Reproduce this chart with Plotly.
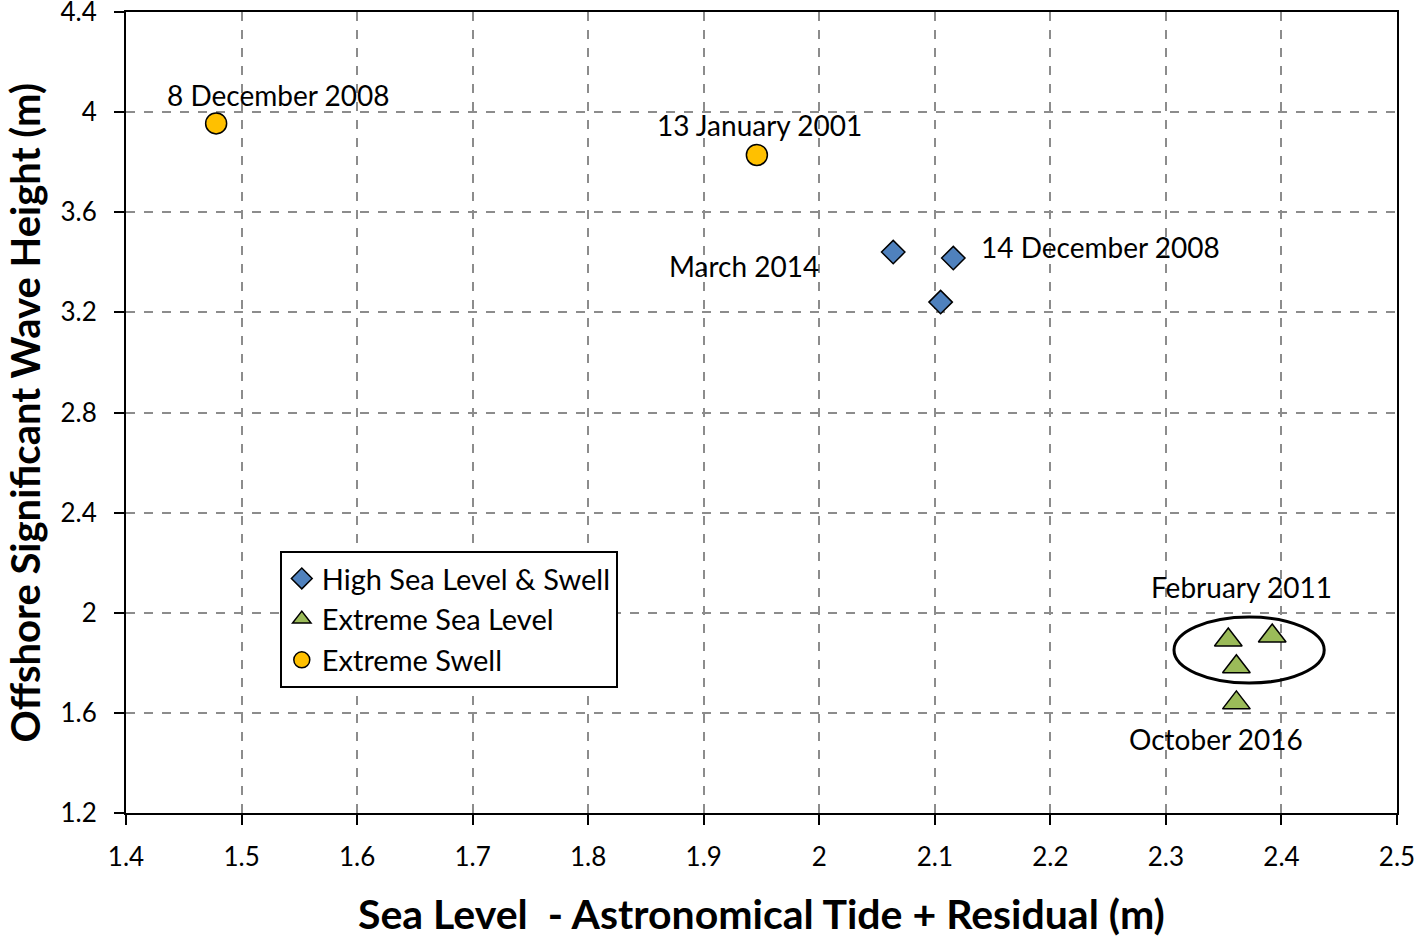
import plotly.graph_objects as go

# Data
hsl_x = [2.064, 2.116, 2.105]
hsl_y = [3.441, 3.417, 3.241]
esl_x = [2.354, 2.392, 2.361, 2.361]
esl_y = [1.891, 1.907, 1.784, 1.640]
esw_x = [1.478, 1.946]
esw_y = [3.955, 3.829]

label_text = ["8 December 2008", "13 January 2001", "March 2014", "14 December 2008",
              "February 2011", "October 2016"]
label_x = [1.5316, 1.948, 1.935, 2.243, 2.365, 2.343]
label_y = [4.068, 3.949, 3.385, 3.461, 2.103, 1.495]

x_ticks = [1.4, 1.5, 1.6, 1.7, 1.8, 1.9, 2.0, 2.1, 2.2, 2.3, 2.4, 2.5]
x_tick_labels = ["1.4", "1.5", "1.6", "1.7", "1.8", "1.9", "2", "2.1", "2.2", "2.3", "2.4", "2.5"]
y_ticks = [1.2, 1.6, 2.0, 2.4, 2.8, 3.2, 3.6, 4.0, 4.4]
y_tick_labels = ["1.2", "1.6", "2", "2.4", "2.8", "3.2", "3.6", "4", "4.4"]

x_title = "Sea Level  - Astronomical Tide + Residual (m)"
y_title = "Offshore Significant Wave Height (m)"

FONT = "Lato"

fig = go.Figure()
fig.add_trace(go.Scatter(x=hsl_x, y=hsl_y, mode="markers", name="High Sea Level & Swell",
                         marker=dict(symbol="diamond", size=18, color="#4F81BD",
                                     line=dict(color="black", width=1.5))))
fig.add_trace(go.Scatter(x=esl_x, y=esl_y, mode="markers", name="Extreme Sea Level",
                         marker=dict(symbol="triangle-up", size=24, color="#9BBB59",
                                     line=dict(color="black", width=1.5))))
fig.add_trace(go.Scatter(x=esw_x, y=esw_y, mode="markers", name="Extreme Swell",
                         marker=dict(symbol="circle", size=21, color="#FFC000",
                                     line=dict(color="black", width=1.5))))

for t, x, y in zip(label_text, label_x, label_y):
    fig.add_annotation(x=x, y=y, text=t, showarrow=False,
                       font=dict(family=FONT, size=28, color="black"))

fig.add_annotation(xref="paper", yref="paper", x=0.5, y=-0.125, text="<b>" + x_title + "</b>",
                   showarrow=False, xanchor="center", yanchor="middle",
                   font=dict(family=FONT, size=41, color="black"))
fig.add_annotation(xref="paper", yref="paper", x=-0.0795, y=0.5, text="<b>" + y_title + "</b>",
                   showarrow=False, xanchor="center", yanchor="middle", textangle=-90,
                   font=dict(family=FONT, size=40, color="black"))

fig.add_shape(type="circle", xref="x", yref="y", x0=2.307, x1=2.437, y0=1.719, y1=1.983,
              line=dict(color="black", width=3))

axis_common = dict(showline=True, linecolor="black", linewidth=2, mirror=True,
                   ticks="outside", ticklen=10, tickwidth=2, tickcolor="black",
                   showgrid=True, gridcolor="#8c8c8c", gridwidth=1.5, griddash="dash",
                   zeroline=False, automargin=False, ticklabeloverflow="allow",
                   tickfont=dict(family=FONT, size=26, color="black"))

fig.update_xaxes(range=[1.4, 2.5], tickvals=x_ticks, ticktext=x_tick_labels,
                 ticklabelstandoff=10, **axis_common)
fig.update_yaxes(range=[1.2, 4.4], tickvals=y_ticks, ticktext=y_tick_labels,
                 ticklabelstandoff=12, **axis_common)

fig.update_layout(
    width=1419, height=937,
    margin=dict(l=126, r=22, t=12, b=124),
    plot_bgcolor="white", paper_bgcolor="white",
    font=dict(family=FONT, color="black"),
    showlegend=True,
    legend=dict(x=0.121, y=0.327, xanchor="left", yanchor="top",
                bgcolor="white", bordercolor="black", borderwidth=2,
                font=dict(family=FONT, size=29, color="black"),
                entrywidth=395, entrywidthmode="pixels",
                tracegroupgap=0),
)

fig.write_html("out.html", config={"displayModeBar": False},
               post_script="document.body.style.margin='0';")
